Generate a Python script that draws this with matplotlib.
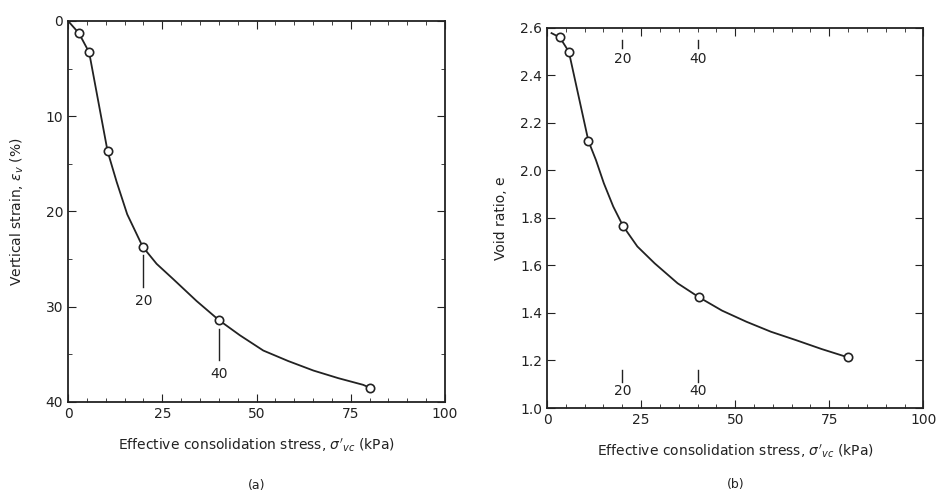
import numpy as np
import matplotlib.pyplot as plt
from matplotlib.ticker import MultipleLocator

# measured points, panel (a)
stress_a = [2.9, 5.6, 10.5, 19.8, 40, 80]
strain_a = [1.3, 3.3, 13.7, 23.7, 31.4, 38.5]
# curve, panel (a)
curve_xa = [0, 2.9, 5.6, 10.5, 12.9, 15.7, 19.8, 23.5, 27.9, 34.1, 40, 45.6, 51.8, 58.4, 65.1, 71.7, 78.3, 80]
curve_ya = [0, 1.3, 3.3, 13.7, 16.9, 20.3, 23.7, 25.5, 27.1, 29.4, 31.4, 33.0, 34.6, 35.7, 36.7, 37.5, 38.2, 38.5]

# measured points, panel (b)
stress_b = [3.4, 5.8, 11.0, 20.2, 40.4, 80]
void_b = [2.56, 2.50, 2.124, 1.766, 1.466, 1.213]
# curve, panel (b)
curve_xb = [1.2, 3.4, 5.8, 11.0, 13.0, 15.1, 17.6, 20.2, 24.0, 28.6, 34.7, 40.4, 46.5, 53, 59.5, 66.1, 73, 80]
curve_yb = [2.578, 2.56, 2.50, 2.124, 2.044, 1.946, 1.848, 1.766, 1.68, 1.609, 1.525, 1.466, 1.410, 1.363, 1.321, 1.286, 1.248, 1.213]

marks = [20, 40]

fig = plt.figure(figsize=(9.41, 4.93), dpi=100)
ax1 = fig.add_axes([0.0723, 0.1846, 0.4006, 0.773])
ax2 = fig.add_axes([0.5813, 0.1724, 0.400, 0.771])

col = '#222222'
for ax in (ax1, ax2):
    ax.tick_params(which='both', direction='in', top=True, right=True, colors=col, labelsize=10)
    ax.tick_params(which='major', length=6)
    ax.tick_params(which='minor', length=3)
    ax.set_xlim(0, 100)
    ax.xaxis.set_major_locator(MultipleLocator(25))
    ax.xaxis.set_minor_locator(MultipleLocator(5))
    for s in ax.spines.values():
        s.set_linewidth(1.3)
        s.set_color(col)

# (a)
ax1.plot(curve_xa, curve_ya, color=col, lw=1.3)
ax1.plot(stress_a, strain_a, 'o', mfc='white', mec=col, ms=6, mew=1.2)
ax1.set_ylim(40, 0)
ax1.yaxis.set_major_locator(MultipleLocator(10))
ax1.yaxis.set_minor_locator(MultipleLocator(5))
ax1.set_xlabel(r"Effective consolidation stress, $\sigma'_{vc}$ (kPa)", fontsize=10, color=col, labelpad=11)
ax1.set_ylabel(r"Vertical strain, $\epsilon_v$ (%)", fontsize=10, color=col, labelpad=14)
ax1.text(0.5, -0.22, '(a)', transform=ax1.transAxes, ha='center', va='center', fontsize=9, color=col)
for m, y0 in zip(marks, [24.6, 32.3]):
    ax1.plot([m, m], [y0, y0 + 3.3], color=col, lw=1)
    ax1.text(m, y0 + 4.8, str(m), ha='center', va='center', fontsize=10, color=col)

# (b)
ax2.plot(curve_xb, curve_yb, color=col, lw=1.3)
ax2.plot(stress_b, void_b, 'o', mfc='white', mec=col, ms=6, mew=1.2)
ax2.set_ylim(1.0, 2.6)
ax2.yaxis.set_major_locator(MultipleLocator(0.2))
ax2.yaxis.set_major_formatter(plt.FormatStrFormatter('%.1f'))
ax2.set_xlabel(r"Effective consolidation stress, $\sigma'_{vc}$ (kPa)", fontsize=10, color=col, labelpad=11)
ax2.set_ylabel("Void ratio, e", fontsize=10, color=col, labelpad=9)
ax2.text(0.5, -0.2, '(b)', transform=ax2.transAxes, ha='center', va='center', fontsize=9, color=col)
for m in marks:
    ax2.plot([m, m], [2.515, 2.55], color=col, lw=1)
    ax2.text(m, 2.47, str(m), ha='center', va='center', fontsize=10, color=col)
    ax2.plot([m, m], [1.11, 1.16], color=col, lw=1)
    ax2.text(m, 1.07, str(m), ha='center', va='center', fontsize=10, color=col)

fig.savefig('out.png', dpi=100)
